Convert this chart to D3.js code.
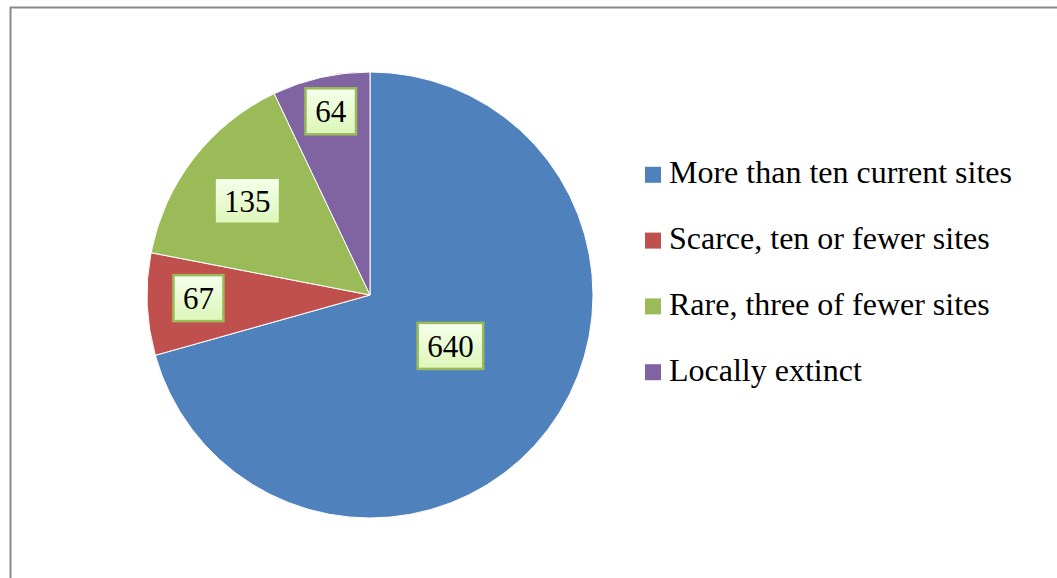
<!DOCTYPE html>
<html><head><meta charset="utf-8">
<script src="https://cdn.jsdelivr.net/npm/d3@7"></script>
<style>html,body{margin:0;padding:0;background:#fff;}svg{display:block;}</style>
</head><body>
<svg id="chart" width="1057" height="578"></svg>
<script>
const categories = ["More than ten current sites", "Scarce, ten or fewer sites", "Rare, three of fewer sites", "Locally extinct"];
const values = [640, 67, 135, 64];
const colors = ["#4f81bd", "#c0504d", "#9bbb59", "#8064a2"];
// layout only: label distance from centre as fraction of radius, and small pixel nudges
const labelRadiusFrac = [0.43, 0.77, 0.69, 0.84];
const labelNudge = [[4,-7],[0,-4],[-1,0],[2,-1]];

const svg = d3.select("#chart");
// frame
svg.append("line").attr("x1",10.5).attr("y1",7).attr("x2",10.5).attr("y2",578).attr("stroke","#8a8a8a").attr("stroke-width",2);
svg.append("line").attr("x1",10).attr("y1",7.5).attr("x2",1057).attr("y2",7.5).attr("stroke","#8a8a8a").attr("stroke-width",2);

const cx = 370, cy = 295, R = 223;
const defs = svg.append("defs");
const grad = defs.append("linearGradient").attr("id","lblg").attr("x1",0).attr("y1",0).attr("x2",0).attr("y2",1);
grad.append("stop").attr("offset","0%").attr("stop-color","#f6ffec");
grad.append("stop").attr("offset","100%").attr("stop-color","#dcf6b8");

const pie = d3.pie().sort(null).value(d => d);
const arcs = pie(values);
const arc = d3.arc().innerRadius(0).outerRadius(R);
const g = svg.append("g").attr("transform", `translate(${cx},${cy})`);
g.selectAll("path").data(arcs).enter().append("path")
  .attr("d", arc).attr("fill", (d,i) => colors[i])
  .attr("stroke", "#fff").attr("stroke-width", 1);

const lbl = g.selectAll("g.lbl").data(arcs).enter().append("g").attr("class","lbl")
  .attr("transform", (d,i) => {
    const a = (d.startAngle + d.endAngle)/2;
    const r = R * labelRadiusFrac[i];
    return `translate(${r*Math.sin(a)+labelNudge[i][0]},${-r*Math.cos(a)+labelNudge[i][1]})`;
  });
lbl.each(function(d,i){
  const sel = d3.select(this);
  const t = sel.append("text").text(values[i])
    .attr("font-family","'Liberation Serif','Times New Roman',serif")
    .attr("font-size",31).attr("fill","#000")
    .attr("text-anchor","middle").attr("y",11);
  const bb = t.node().getBBox();
  const w = bb.width + 19, h = 46;
  sel.insert("rect","text").attr("x",-w/2).attr("y",-h/2).attr("width",w).attr("height",h)
    .attr("fill","url(#lblg)").attr("stroke","#9bbb59").attr("stroke-width",2.5);
});

// legend
const legBase0 = 183.3, legStep = 65.8;
const leg = svg.selectAll("g.leg").data(categories).enter().append("g").attr("class","leg")
  .attr("transform",(d,i)=>`translate(645,${legBase0 + i*legStep})`);
leg.append("rect").attr("x",0).attr("y",-16.5).attr("width",16).attr("height",16).attr("fill",(d,i)=>colors[i]);
leg.append("text").attr("x",24).attr("y",0)
  .attr("font-family","'Liberation Serif','Times New Roman',serif").attr("font-size",32)
  .attr("fill","#000").text(d=>d);
</script>
</body></html>
